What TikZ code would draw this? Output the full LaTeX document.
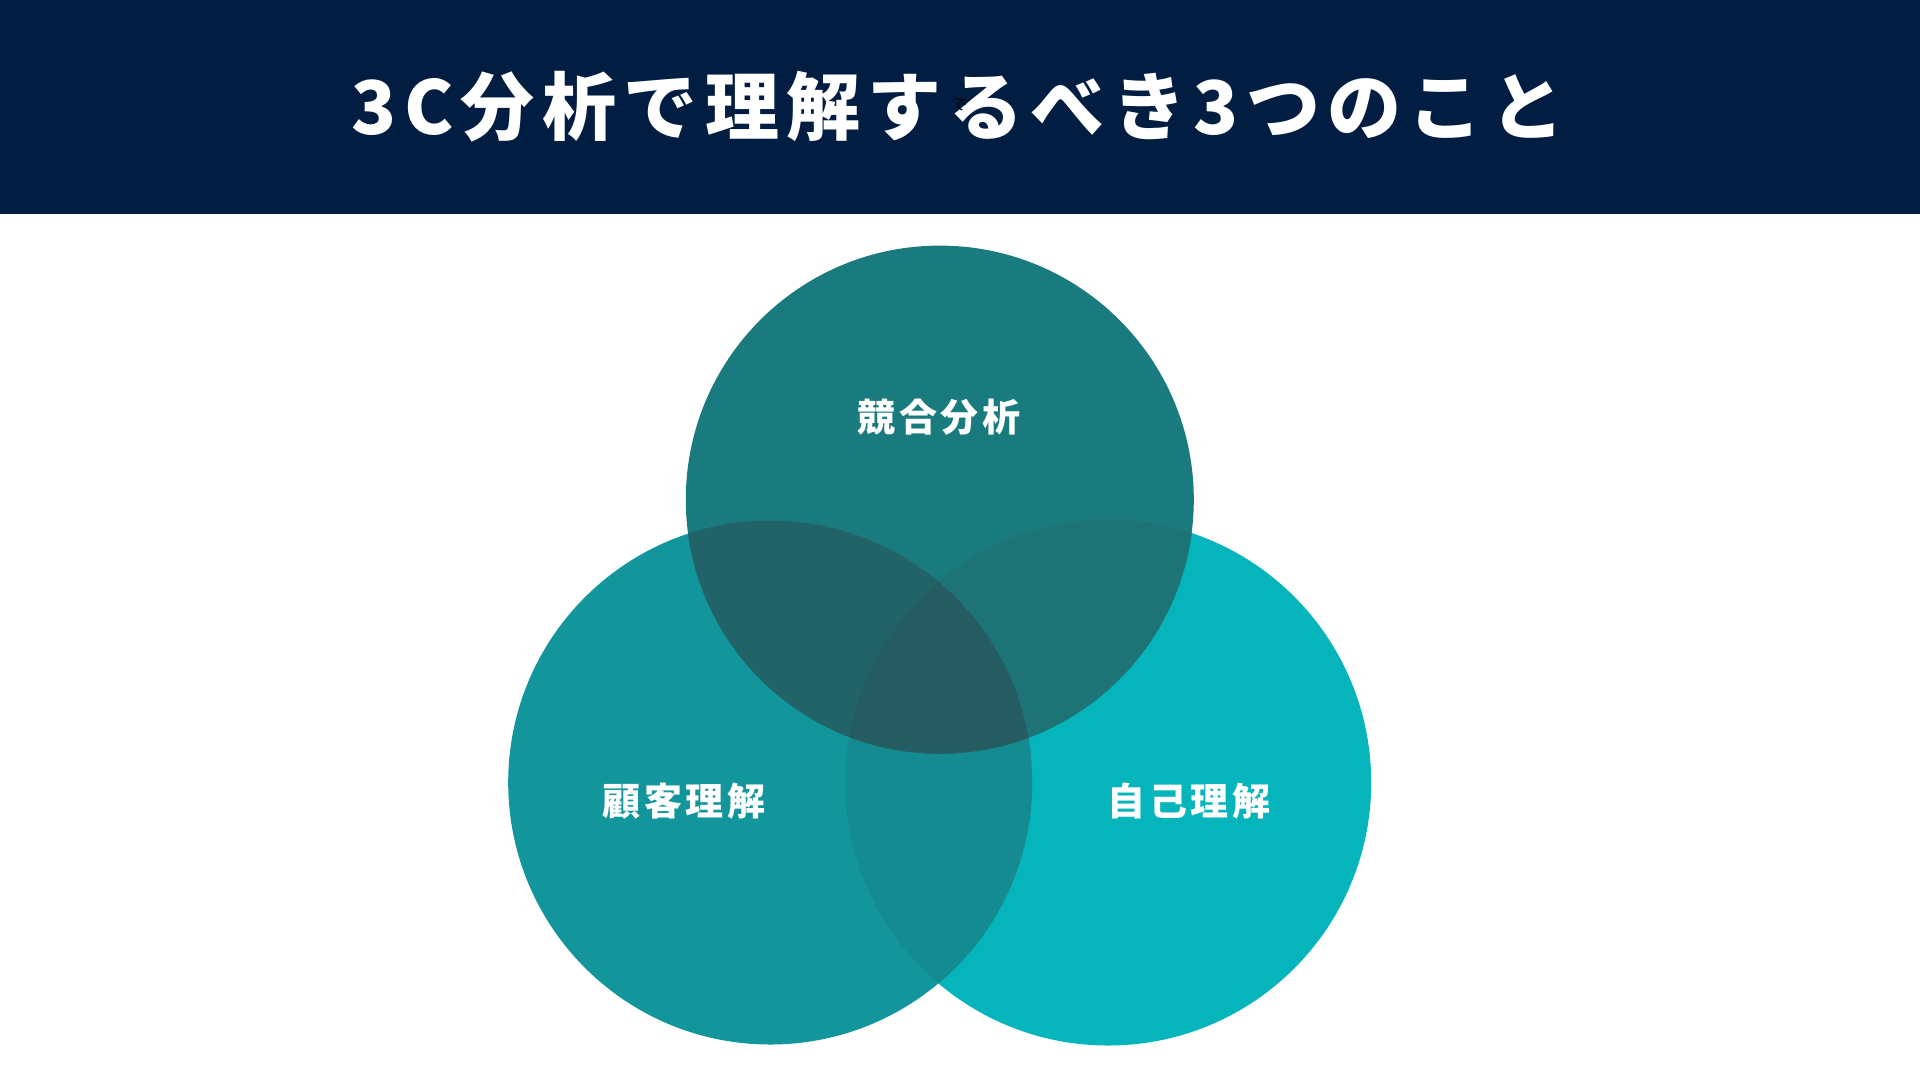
\documentclass[tikz,border=0pt]{standalone}
\usepackage{fontspec}
\newfontfamily\cjktitle{Noto Sans CJK JP}[LetterSpace=10]
\newfontfamily\cjklabel{Noto Sans CJK JP}[LetterSpace=9]
\newfontfamily\cjkplain{Noto Sans CJK JP}
\definecolor{headbg}{HTML}{011E42}
\definecolor{cT}{HTML}{1A7B7F}
\definecolor{cL}{HTML}{12969C}
\definecolor{cR}{HTML}{06B5BC}
\definecolor{cLR}{HTML}{138B90}
\definecolor{cTL}{HTML}{226368}
\definecolor{cTR}{HTML}{1E7377}
\definecolor{cTLR}{HTML}{245C62}
\tikzset{
  titletext/.style={text=white, inner sep=0pt, font=\cjktitle\bfseries\fontsize{74pt}{80pt}\selectfont},
  labeltext/.style={text=white, inner sep=0pt, font=\cjklabel\bfseries\fontsize{38pt}{44pt}\selectfont},
}
\begin{document}
\begin{tikzpicture}[x=1pt,y=-1pt]
\useasboundingbox (0,0) rectangle (1920,1080);
\fill[headbg] (0,0) rectangle (1920,214);
\node[titletext] (title) at (958,107) {3C分析で理解するべき3つのこと};
\node[inner sep=0pt, text=black, rotate=-15, font=\cjkplain\fontsize{15pt}{16pt}\selectfont] (stray) at (960,104) {で};

\coordinate (T) at (939.8,499.6);
\coordinate (L) at (770.2,782.5);
\coordinate (R) at (1108.2,782.5);

\fill[cR] (R) circle[radius=263pt];
\fill[cL] (L) circle[radius=262pt];
\begin{scope}
  \clip (L) circle[radius=262pt];
  \fill[cLR] (R) circle[radius=263pt];
\end{scope}
\fill[cT] (T) circle[radius=254pt];
\begin{scope}
  \clip (T) circle[radius=254pt];
  \fill[cTL] (L) circle[radius=262pt];
  \fill[cTR] (R) circle[radius=263pt];
  \clip (L) circle[radius=262pt];
  \fill[cTLR] (R) circle[radius=263pt];
\end{scope}

\node[labeltext] (comp) at (939,417) {競合分析};
\node[labeltext] (cust) at (684,801) {顧客理解};
\node[labeltext] (self) at (1189,801) {自己理解};
\end{tikzpicture}
\end{document}
